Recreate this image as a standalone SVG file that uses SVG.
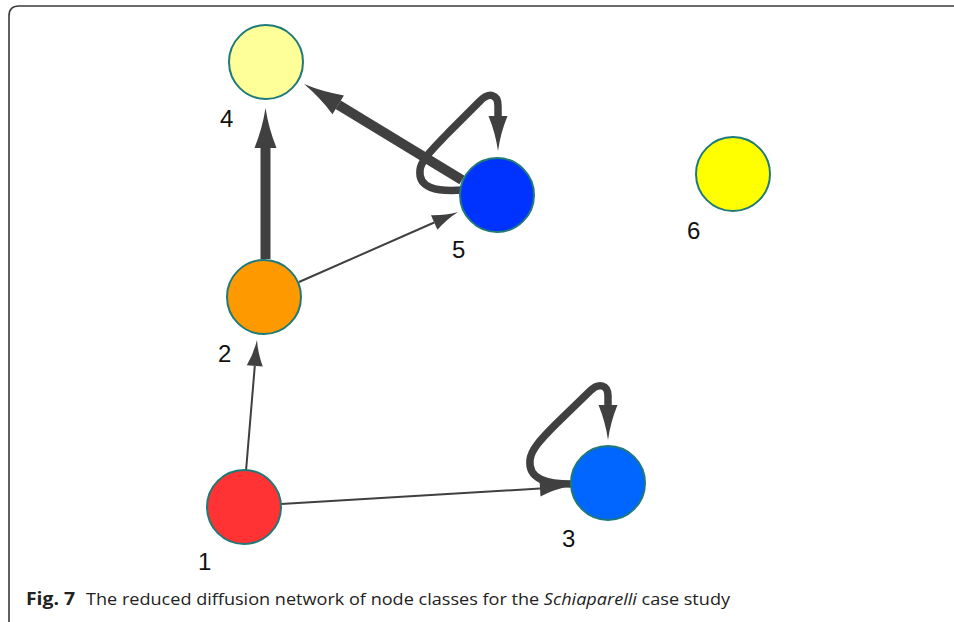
<svg xmlns="http://www.w3.org/2000/svg" width="954" height="622" viewBox="0 0 954 622">
  <defs>
    <style>
      .node { stroke: #1f7a78; stroke-width: 2; }
      .label { font-family: "Liberation Sans", Arial, sans-serif; font-size: 24px; fill: #111; }
      .edge { fill: none; stroke: #404040; stroke-linecap: butt; stroke-linejoin: round; }
      .thin { stroke-width: 2; marker-end: url(#head-thin); }
      .thick { stroke-width: 10; marker-end: url(#head-thick); }
      .loop { stroke-width: 7.5; marker-end: url(#head-loop); }
      .caption { font-family: "Open Sans", "Noto Sans", sans-serif; font-size: 17px; fill: #222; }
    </style>
    <!-- arrowheads start at the path end and point forward -->
    <marker id="head-thin" markerUnits="userSpaceOnUse" markerWidth="28" markerHeight="18" refX="0" refY="8" orient="auto" overflow="visible">
      <path d="M0,0 Q13,6 26,8 Q13,10 0,16 Z" fill="#404040"/>
    </marker>
    <marker id="head-thick" markerUnits="userSpaceOnUse" markerWidth="42" markerHeight="24" refX="0" refY="11" orient="auto" overflow="visible">
      <path d="M0,0 Q20,8 40,11 Q20,14 0,22 Z" fill="#404040"/>
    </marker>
    <marker id="head-loop" markerUnits="userSpaceOnUse" markerWidth="37" markerHeight="21" refX="0" refY="9.5" orient="auto" overflow="visible">
      <path d="M0,0 Q17,7 35,9.5 Q17,12 0,19 Z" fill="#404040"/>
    </marker>
  </defs>

  <rect width="954" height="622" fill="#ffffff"/>

  <!-- figure frame -->
  <path d="M9,622 L9,16 Q9,6 19,6 L954,6" fill="none" stroke="#3a3a3a" stroke-width="1.6"/>

  <g id="connectors">
    <path class="edge thin" d="M246,471 L254.8,365.9"/>
    <path class="edge thin" d="M281,504 L540,488.5"/>
    <path class="edge thin" d="M299,282 L434.2,222.5"/>
    <path class="edge thick" d="M265.5,259 L265.5,148"/>
    <path class="edge thick" d="M462,180 L338.2,104.8"/>
    <path class="edge loop" d="M463,190 C436,192 418,188 420,170 C421,160 432,150 448,133 L480,101 C489,92 498,94 498,106 L498,116"/>
    <path class="edge loop" d="M572,484 C546,484 528,479 530,460 C531,450 540,440 556,424 L590,391 C599,382 608,385 608,396 L608,405"/>
  </g>

  <g id="node-4">
    <circle class="node" cx="266" cy="62" r="37" fill="#ffff99"/>
    <text class="label" x="220" y="127">4</text>
  </g>
  <g id="node-5">
    <circle class="node" cx="497" cy="195" r="37" fill="#0033ff"/>
    <text class="label" x="452" y="258">5</text>
  </g>
  <g id="node-2">
    <circle class="node" cx="264" cy="297" r="37" fill="#ff9900"/>
    <text class="label" x="218" y="362">2</text>
  </g>
  <g id="node-1">
    <circle class="node" cx="244" cy="507" r="37" fill="#ff3333"/>
    <text class="label" x="198" y="570">1</text>
  </g>
  <g id="node-3">
    <circle class="node" cx="608" cy="483" r="37" fill="#0066ff"/>
    <text class="label" x="562" y="547">3</text>
  </g>
  <g id="node-6">
    <circle class="node" cx="733" cy="174" r="37" fill="#ffff00"/>
    <text class="label" x="687" y="239">6</text>
  </g>

  <g id="caption">
    <text class="caption" x="26" y="605" font-weight="bold" textLength="49" lengthAdjust="spacingAndGlyphs">Fig. 7</text>
    <text class="caption" x="86" y="605" textLength="644" lengthAdjust="spacingAndGlyphs">The reduced diffusion network of node classes for the <tspan font-style="italic">Schiaparelli</tspan> case study</text>
  </g>
</svg>
